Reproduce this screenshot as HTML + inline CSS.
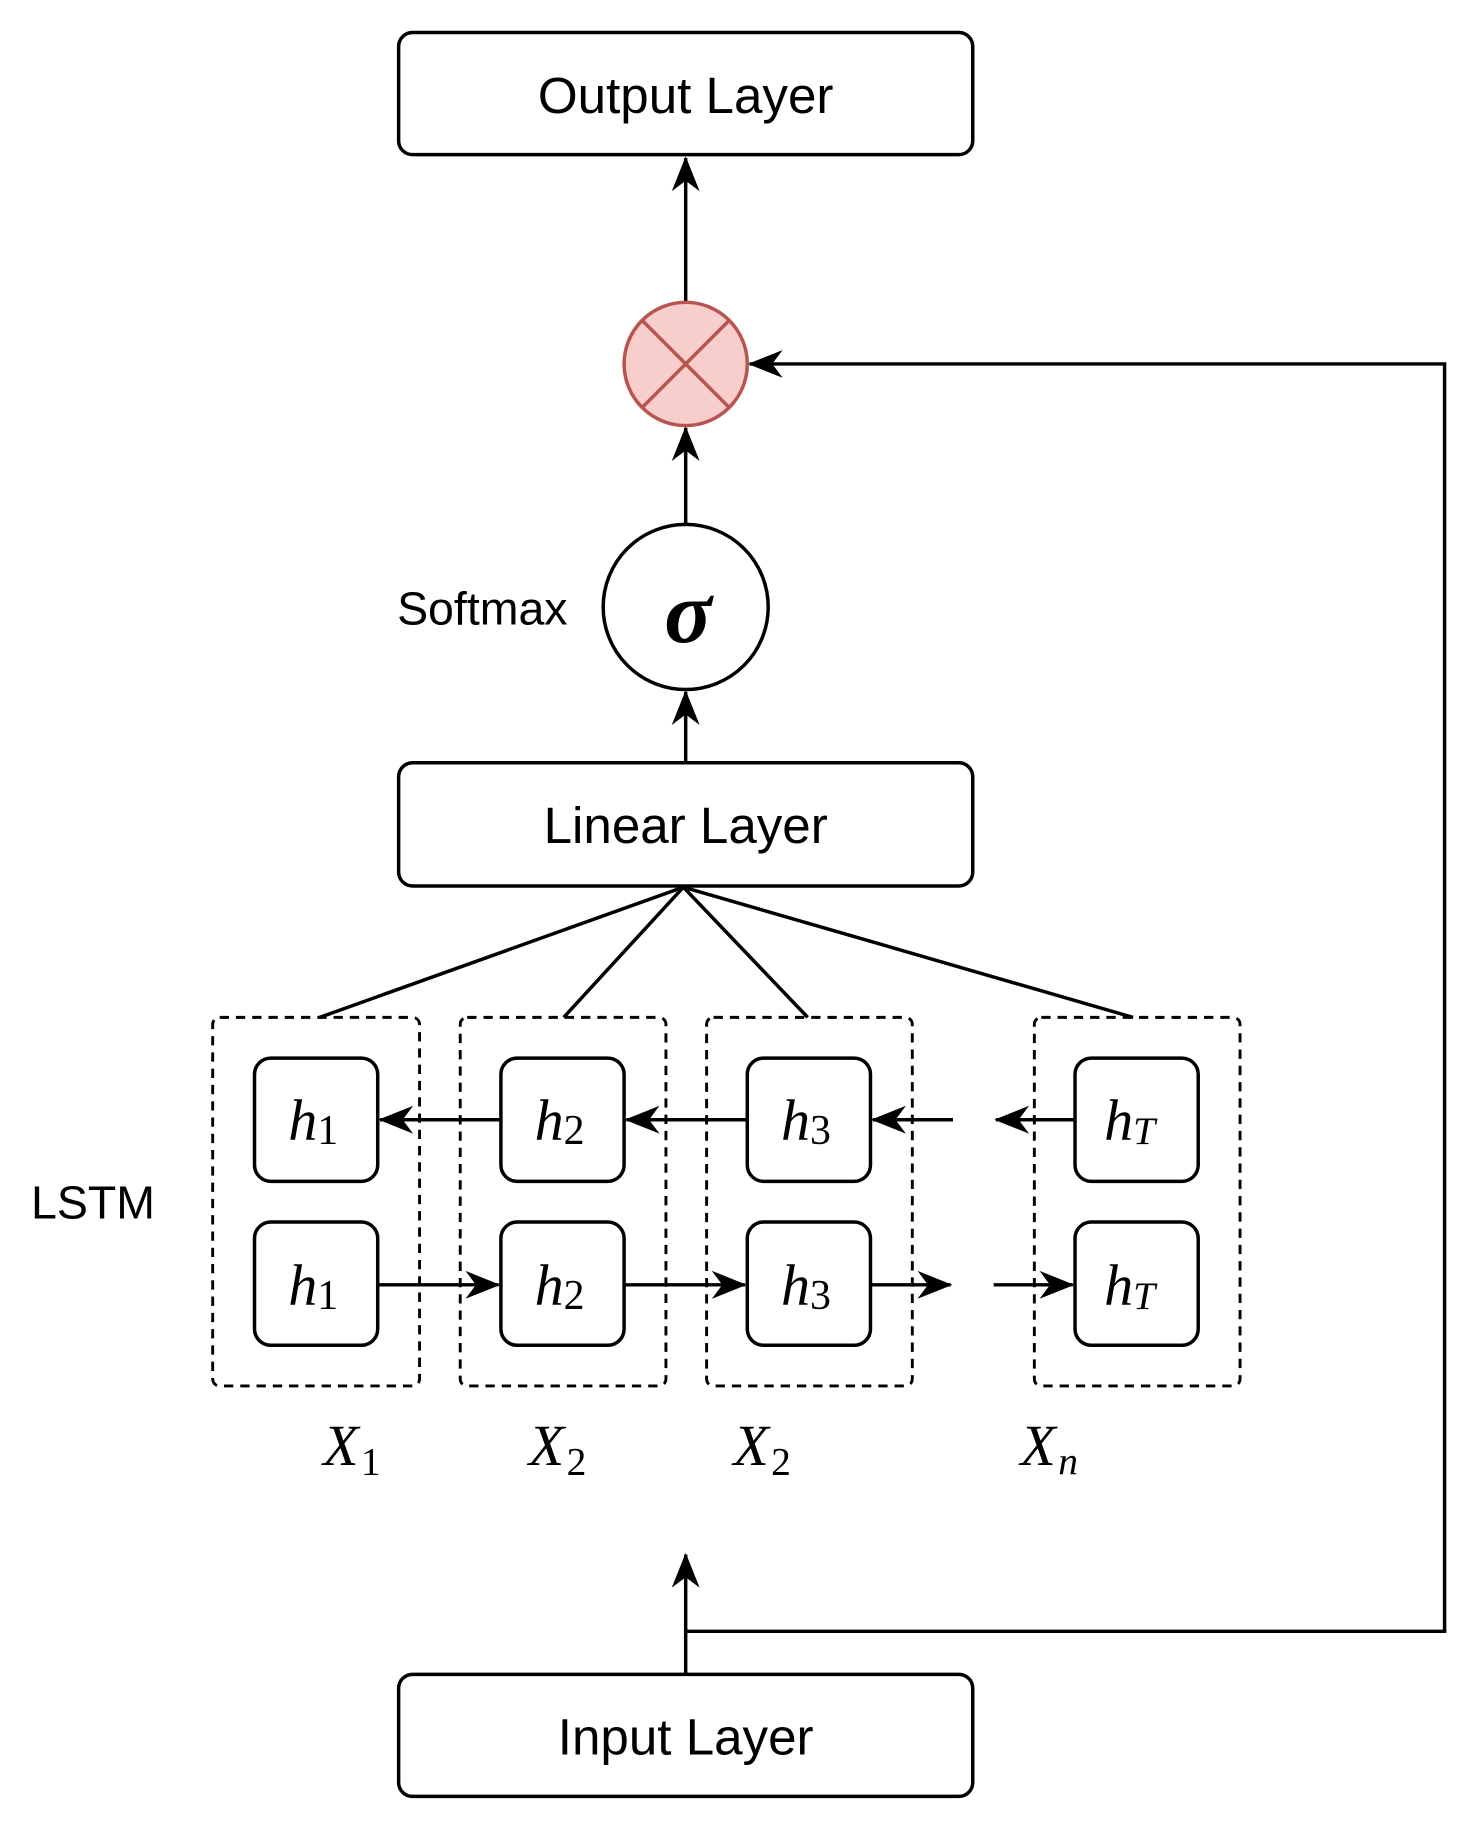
<!DOCTYPE html>
<html><head><meta charset="utf-8"><style>html,body{margin:0;padding:0;background:#fff}svg{display:block}</style></head>
<body>
<svg width="1469" height="1822" viewBox="0 0 1264 1567" preserveAspectRatio="none" xmlns="http://www.w3.org/2000/svg">
<defs>
<marker id="a" viewBox="0 0 20 20" refX="19" refY="10" markerWidth="30" markerHeight="30" markerUnits="userSpaceOnUse" orient="auto">
<path d="M0,2 L20,10 L0,18 L6,10 Z" fill="#000"/>
</marker>
</defs>
<g fill="none" stroke="#000" stroke-width="3">
<rect x="343" y="28" width="494" height="105" rx="12" fill="#fff"/>
<rect x="343" y="656" width="494" height="106" rx="12" fill="#fff"/>
<rect x="343" y="1440" width="494" height="105" rx="12" fill="#fff"/>
<line x1="590" y1="260" x2="590" y2="136" marker-end="url(#a)"/>
<line x1="590" y1="451" x2="590" y2="368" marker-end="url(#a)"/>
<line x1="590" y1="656" x2="590" y2="595" marker-end="url(#a)"/>
<polyline points="590,1403 1243,1403 1243,313 645,313" marker-end="url(#a)"/>
<line x1="590" y1="1440" x2="590" y2="1337" marker-end="url(#a)"/>
<circle cx="590" cy="522" r="71" fill="#fff"/>
<line x1="588" y1="763" x2="275" y2="875"/>
<line x1="588" y1="763" x2="485" y2="875"/>
<line x1="588" y1="763" x2="695" y2="875"/>
<line x1="588" y1="763" x2="975" y2="875"/>
<g stroke-dasharray="8,6" stroke-width="2.5">
<rect x="183" y="875" width="178" height="317" rx="6"/>
<rect x="396" y="875" width="177" height="317" rx="6"/>
<rect x="608" y="875" width="177" height="317" rx="6"/>
<rect x="890" y="875" width="177" height="317" rx="6"/>
</g>
<g fill="#fff">
<rect x="219" y="910" width="106" height="106" rx="14"/>
<rect x="431" y="910" width="106" height="106" rx="14"/>
<rect x="643" y="910" width="106" height="106" rx="14"/>
<rect x="925" y="910" width="106" height="106" rx="14"/>
<rect x="219" y="1051" width="106" height="106" rx="14"/>
<rect x="431" y="1051" width="106" height="106" rx="14"/>
<rect x="643" y="1051" width="106" height="106" rx="14"/>
<rect x="925" y="1051" width="106" height="106" rx="14"/>
</g>
<line x1="431" y1="963" x2="327" y2="963" marker-end="url(#a)"/>
<line x1="643" y1="963" x2="539" y2="963" marker-end="url(#a)"/>
<line x1="820" y1="963" x2="751" y2="963" marker-end="url(#a)"/>
<line x1="925" y1="963" x2="857" y2="963" marker-end="url(#a)"/>
<line x1="325" y1="1105" x2="429" y2="1105" marker-end="url(#a)"/>
<line x1="537" y1="1105" x2="641" y2="1105" marker-end="url(#a)"/>
<line x1="749" y1="1105" x2="818" y2="1105" marker-end="url(#a)"/>
<line x1="855" y1="1105" x2="923" y2="1105" marker-end="url(#a)"/>
</g>
<circle cx="590" cy="313" r="53" fill="#f8cecc" stroke="#b85450" stroke-width="3"/>
<g stroke="#b85450" stroke-width="3"><line x1="553" y1="276" x2="627" y2="350"/><line x1="627" y1="276" x2="553" y2="350"/></g>
<g font-family="Liberation Sans, sans-serif" font-size="44" text-anchor="middle" fill="#000">
<text x="590" y="97">Output Layer</text>
<text x="590" y="725">Linear Layer</text>
<text x="590" y="1509">Input Layer</text>
<text x="415" y="537" font-size="40">Softmax</text>
<text x="80" y="1048" font-size="40">LSTM</text>
</g>
<g font-family="Liberation Serif, serif" font-style="italic" fill="#000">
<text x="592" y="552" font-size="76" font-weight="bold" text-anchor="middle">σ</text>
<g font-size="50">
<text x="248" y="980">h<tspan font-style="normal" font-size="36" dy="4">1</tspan></text>
<text x="460" y="980">h<tspan font-style="normal" font-size="36" dy="4">2</tspan></text>
<text x="672" y="980">h<tspan font-style="normal" font-size="36" dy="4">3</tspan></text>
<text x="950" y="980">h<tspan font-size="34" dy="4">T</tspan></text>
<text x="248" y="1122">h<tspan font-style="normal" font-size="36" dy="4">1</tspan></text>
<text x="460" y="1122">h<tspan font-style="normal" font-size="36" dy="4">2</tspan></text>
<text x="672" y="1122">h<tspan font-style="normal" font-size="36" dy="4">3</tspan></text>
<text x="950" y="1122">h<tspan font-size="34" dy="4">T</tspan></text>
<text x="278" y="1260">X<tspan font-style="normal" font-size="34" dy="8" dx="2">1</tspan></text>
<text x="455" y="1260">X<tspan font-style="normal" font-size="34" dy="8" dx="2">2</tspan></text>
<text x="631" y="1260">X<tspan font-style="normal" font-size="34" dy="8" dx="2">2</tspan></text>
<text x="878" y="1260">X<tspan font-size="34" dy="8" dx="2">n</tspan></text>
</g>
</g>
</svg>
</body></html>
